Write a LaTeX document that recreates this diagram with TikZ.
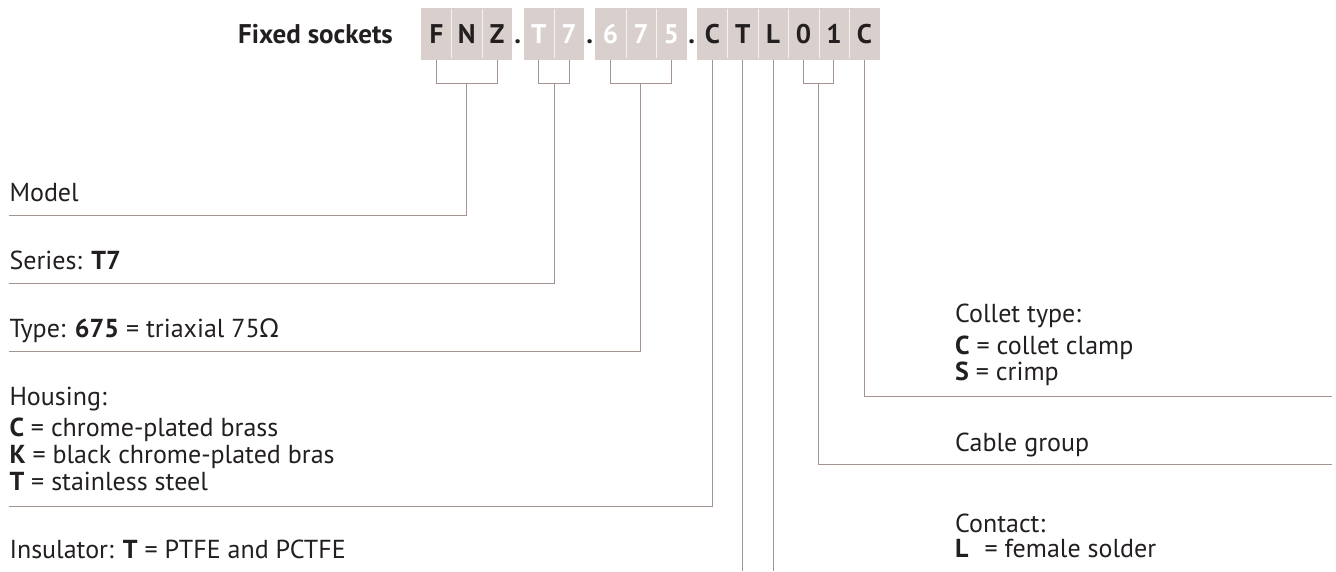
\documentclass[tikz,border=0pt]{standalone}
\usepackage{fontspec}
\setmainfont{PT Sans}
\newfontfamily\gkfont{Noto Sans}
\definecolor{boxfill}{RGB}{217,208,205}
\definecolor{linec}{RGB}{163,148,143}
\definecolor{txt}{RGB}{35,31,32}
\begin{document}
\begin{tikzpicture}[x=1pt,y=-1pt,
  cell/.style={minimum width=30.4pt,minimum height=52.7pt,inner sep=0pt,fill=boxfill,
    font=\fontsize{27}{32}\selectfont\bfseries,text height=18.5pt,text depth=0pt,anchor=north west},
  dark/.style={text=txt},
  light/.style={text=white},
  divider/.style={draw=white!75!boxfill,line width=0.8pt},
  conn/.style={draw=linec,line width=1pt},
  lbl/.style={anchor=base west,inner sep=0pt,text=txt,font=\fontsize{26}{31}\selectfont},
  sep/.style={anchor=base,inner sep=0pt,text=txt,font=\fontsize{27}{32}\selectfont\bfseries}
]
\useasboundingbox (0,0) rectangle (1336,571);
% cells
\node[cell,dark]  (f1) at (421,7.3) {F};
\node[cell,dark]  (f2) at (451.4,7.3) {N};
\node[cell,dark]  (f3) at (481.8,7.3) {Z};
\node[cell,light] (s1) at (523.3,7.3) {T};
\node[cell,light] (s2) at (553.7,7.3) {7};
\node[cell,light] (t1) at (595.1,7.3) {6};
\node[cell,light] (t2) at (625.5,7.3) {7};
\node[cell,light] (t3) at (655.9,7.3) {5};
\node[cell,dark]  (h1) at (696.9,7.3) {C};
\node[cell,dark]  (h2) at (727.3,7.3) {T};
\node[cell,dark]  (h3) at (757.7,7.3) {L};
\node[cell,dark]  (h4) at (788.1,7.3) {0};
\node[cell,dark]  (h5) at (818.5,7.3) {1};
\node[cell,dark]  (h6) at (848.9,7.3) {C};
% dividers
\foreach \c in {f1,f2,s1,t1,t2,h1,h2,h3,h4,h5}
  \draw[divider] ([yshift=-2pt]\c.north east) -- ([yshift=2pt]\c.south east);
% dots
\node[sep] (d1) at (517.7,43) {.};
\node[sep] (d2) at (589.6,43) {.};
\node[sep] (d3) at (691.6,43) {.};
\node[sep,anchor=base east] (title) at (393,43) {Fixed sockets};
% labels left
\node[lbl] (model) at (9.3,201.7) {Model};
\node[lbl] (series) at (9.3,269) {Series: \textbf{T7}};
\node[lbl] (type) at (9.3,337) {Type: \textbf{675} = triaxial 75{\gkfont Ω}};
\node[lbl] (hous) at (9.3,405) {Housing:};
\node[lbl] (housC) at (9.3,436.7) {\textbf{C} = chrome-plated brass};
\node[lbl] (housK) at (9.3,463.3) {\textbf{K} = black chrome-plated bras};
\node[lbl] (housT) at (9.3,490) {\textbf{T} = stainless steel};
\node[lbl] (insul) at (9.3,558) {Insulator: \textbf{T} = PTFE and PCTFE};
% labels right
\node[lbl] (coll) at (955,322.7) {Collet type:};
\node[lbl] (collC) at (955,354) {\textbf{C} = collet clamp};
\node[lbl] (collS) at (955,380.7) {\textbf{S} = crimp};
\node[lbl] (cable) at (955,451.5) {Cable group};
\node[lbl] (cont) at (955,532.7) {Contact:};
\node[lbl] (contL) at (955,557.3) {\textbf{L}\hspace{0.35em} = female solder};
% end coordinates
\coordinate (eModel) at (9.3,215);
\coordinate (eSeries) at (9.3,283.3);
\coordinate (eType) at (9.3,351);
\coordinate (eHous) at (9.3,506.3);
\coordinate (eColl) at (1332,396.7);
\coordinate (eCable) at (1332,464.3);
\coordinate (bot) at (0,571);
% brackets
\draw[conn] (f1.south) -- ++(0,22.7) -| (f3.south);
\draw[conn] (f2.south) ++(0,22.7) |- (eModel);
\draw[conn] (s1.south) -- ++(0,22.7) -| (s2.south);
\draw[conn] (s1.south east) ++(0,22.7) |- (eSeries);
\draw[conn] (t1.south) -- ++(0,22.7) -| (t3.south);
\draw[conn] (t2.south) ++(0,22.7) |- (eType);
\draw[conn] (h1.south) |- (eHous);
\draw[conn] (h2.south) -- (h2.south |- bot);
\draw[conn] (h3.south) -- (h3.south |- bot);
\draw[conn] (h4.south) -- ++(0,22.7) -| (h5.south);
\draw[conn] (h4.south east) ++(0,22.7) |- (eCable);
\draw[conn] (h6.south) |- (eColl);
\end{tikzpicture}
\end{document}
